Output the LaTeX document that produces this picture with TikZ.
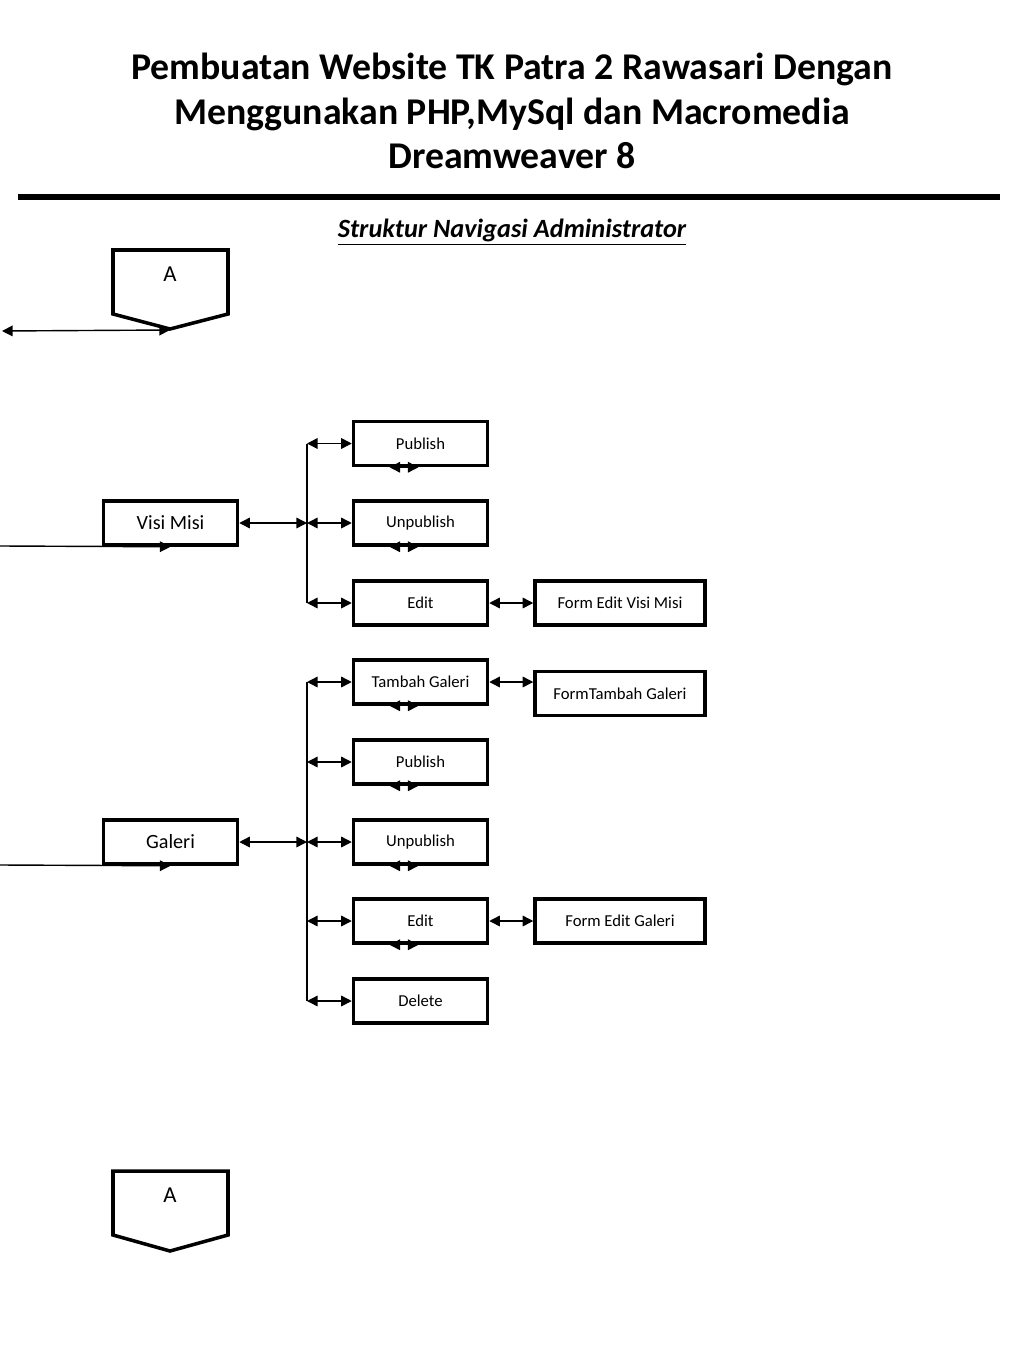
\documentclass[tikz,border=0pt]{standalone}
\usepackage{fontspec}
\setmainfont{Carlito}
\usetikzlibrary{arrows.meta}

\tikzset{
    box/.style = {draw, line width=2pt, minimum width=2.68cm, minimum height=0.88cm,
                  inner sep=0pt, font=\fontsize{9.5}{11}\selectfont},
    mainbox/.style = {box, font=\fontsize{11.5}{13}\selectfont},
    formbox/.style = {box, minimum width=3.4cm},
    link/.style = {<->, >={Triangle[length=6pt,width=6pt]}, line width=0.8pt},
    feed/.style = {->, >={Triangle[length=6pt,width=6pt]}, line width=0.8pt},
    pagecon/.style = {draw, line width=2pt},
}

\begin{document}
\begin{tikzpicture}[x=0.02cm, y=-0.02cm]
    \useasboundingbox (0,0) rectangle (1024,1365);

    % title
    \node [font=\bfseries\fontsize{21.5}{25.5}\selectfont, align=center] (title) at (512,111)
        {Pembuatan Website TK Patra 2 Rawasari Dengan\\Menggunakan PHP,MySql dan Macromedia\\Dreamweaver 8};
    \draw [line width=3pt] (18,197) -- (1000,197);
    \node [font=\bfseries\itshape\fontsize{15}{17}\selectfont] (subtitle) at (512,232)
        {\underline{Struktur Navigasi Administrator}};

    % off-page connector top
    \draw [pagecon] (113,250) -- (228,250) -- (228,314) -- (170,329) -- (113,314) -- cycle;
    \node [font=\fontsize{13}{15}\selectfont] (atop) at (170,274) {A};
    \coordinate (atip) at (170,330);
    \coordinate (aleft) at (2,331);
    \draw [link] (aleft) -- (atip);

    % bus lines
    \coordinate (bus) at (307,0);

    % Visi Misi
    \node [mainbox] (visi) at (170.5,523) {Visi Misi};
    \coordinate (visiin) at (0,546);
    \draw [feed] (visiin) -- (visi.south);

    \node [box] (pub1) at (420.5,443.5) {Publish};
    \node [box] (unpub1) at (420.5,523) {Unpublish};
    \node [box] (edit1) at (420.5,603) {Edit};
    \node [formbox] (fedit1) at (620,603) {Form Edit Visi Misi};

    \draw [line width=0.8pt] (pub1.west -| bus) -- (edit1.west -| bus);
    \draw [link] (visi.east) -- (visi.east -| bus);
    \draw [link] (pub1.west -| bus) -- (pub1.west);
    \draw [link] (unpub1.west -| bus) -- (unpub1.west);
    \draw [link] (edit1.west -| bus) -- (edit1.west);
    \draw [link] (edit1.east) -- (fedit1.west);

    % Galeri
    \node [mainbox] (galeri) at (170.5,842) {Galeri};
    \coordinate (galeriin) at (0,865);
    \draw [feed] (galeriin) -- (galeri.south);

    \node [box] (tambah) at (420.5,682) {Tambah Galeri};
    \node [formbox] (ftambah) at (620,693.5) {FormTambah Galeri};
    \node [box] (pub2) at (420.5,762) {Publish};
    \node [box] (unpub2) at (420.5,842) {Unpublish};
    \node [box] (edit2) at (420.5,921) {Edit};
    \node [formbox] (fedit2) at (620,921) {Form Edit Galeri};
    \node [box] (delete) at (420.5,1001) {Delete};

    \draw [line width=0.8pt] (tambah.west -| bus) -- (delete.west -| bus);
    \draw [link] (galeri.east) -- (galeri.east -| bus);
    \draw [link] (tambah.west -| bus) -- (tambah.west);
    \draw [link] (pub2.west -| bus) -- (pub2.west);
    \draw [link] (unpub2.west -| bus) -- (unpub2.west);
    \draw [link] (edit2.west -| bus) -- (edit2.west);
    \draw [link] (delete.west -| bus) -- (delete.west);
    \draw [link] (tambah.east) -- (tambah.east -| ftambah.west);
    \draw [link] (edit2.east) -- (fedit2.west);

    % small arrows under the boxes
    \foreach \b in {pub1, unpub1, tambah, pub2, unpub2, edit2}
        \draw [link] ([xshift=-0.62cm]\b.south) -- ([xshift=-0.04cm]\b.south);

    % off-page connector bottom
    \draw [pagecon] (113,1171) -- (228,1171) -- (228,1235) -- (170,1251) -- (113,1235) -- cycle;
    \node [font=\fontsize{13}{15}\selectfont] (abottom) at (170,1195) {A};
\end{tikzpicture}
\end{document}
